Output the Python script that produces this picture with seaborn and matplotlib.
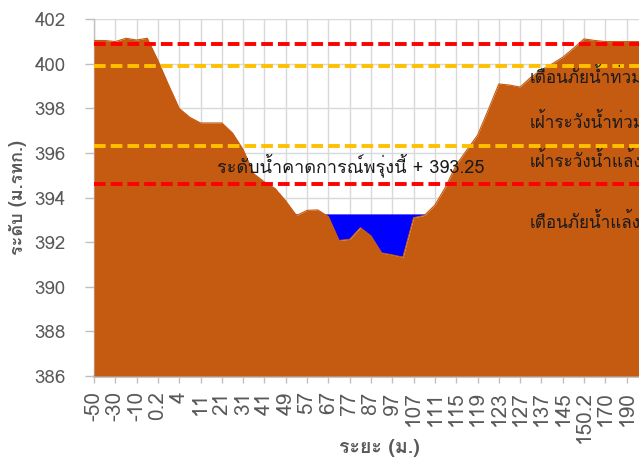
import matplotlib
matplotlib.use("Agg")
import matplotlib.pyplot as plt
import numpy as np
import pandas as pd
import seaborn as sns
from matplotlib import font_manager
from fontTools.ttLib import TTFont

# distance labels (every second one is shown on the axis)
distance = ["-50", "-40", "-30", "-20", "-10", "0", "0.2", "2", "4", "7",
            "11", "16", "21", "26", "31", "36", "41", "45", "49", "53",
            "57", "62", "67", "72", "77", "82", "87", "92", "97", "102",
            "107", "109", "111", "113", "115", "117", "119", "121", "123", "125",
            "127", "132", "137", "141", "145", "148", "150.2", "160", "170", "180",
            "190", "200", "210"]
# ground elevation (m. MSL)
elevation = [401.05, 401.05, 401.0, 401.15, 401.07, 401.15, 400.15, 399.05, 398.0, 397.6,
             397.35, 397.35, 397.35, 396.9, 396.15, 395.07, 394.7, 394.41, 393.85, 393.2,
             393.43, 393.45, 393.15, 392.08, 392.13, 392.65, 392.28, 391.52, 391.43, 391.33,
             393.1, 393.2, 393.67, 394.48, 395.47, 396.14, 396.8, 397.93, 399.1, 399.05,
             398.96, 399.4, 399.73, 400.0, 400.3, 400.7, 401.12, 401.05, 401.0, 401.0,
             401.0, 401.0, 401.0]

forecast_level = 393.25
red_levels = [400.9, 394.6]
yellow_levels = [399.9, 396.3]
level_names = ["เตือนภัยน้ำท่วม", "เฝ้าระวังน้ำท่วม", "เฝ้าระวังน้ำแล้ง", "เตือนภัยน้ำแล้ง"]
level_text_y = [399.15, 397.13, 395.39, 392.63]


def thai_font():
    for f in font_manager.fontManager.ttflist:
        try:
            cmap = TTFont(f.fname, fontNumber=0, lazy=True).getBestCmap()
            if 0x0E23 in cmap and 0x0E49 in cmap:
                return f.name
        except Exception:
            pass
    return None


sns.set_theme(style="whitegrid")
th = thai_font()
families = ([th] if th else []) + ["DejaVu Sans"]
plt.rcParams["font.family"] = families

df = pd.DataFrame({"idx": np.arange(len(distance)), "elev": elevation})
water = np.full(len(df), forecast_level)

fig = plt.figure(figsize=(6.39, 4.61), dpi=100)
ax = fig.add_axes([94 / 639, 1 - 376 / 461, (648 - 94) / 639, (376 - 19.3) / 461])

ax.fill_between(df["idx"], df["elev"], water, where=df["elev"] < water,
                interpolate=True, color="#0000FF", lw=0, zorder=2)
ax.fill_between(df["idx"], 386, df["elev"], color="#C55A11", lw=0, zorder=3)
sns.lineplot(data=df, x="idx", y="elev", color="#C55A11", lw=0.8, ax=ax, zorder=3)

for lv in red_levels:
    ax.axhline(lv, color="#FF0000", lw=2.8, dashes=(3, 1.3), zorder=4)
for lv in yellow_levels:
    ax.axhline(lv, color="#FFC000", lw=2.8, dashes=(3, 1.3), zorder=4)

ax.text(11.55, 395.15, f"ระดับน้ำคาดการณ์พรุ่งนี้ + {forecast_level}",
        fontsize=13, color="#1a1a1a", zorder=5)
for name, y in zip(level_names, level_text_y):
    ax.text(40.9, y, name, fontsize=12.3, color="#1a1a1a", zorder=5)

# only every second distance is labelled; the last one falls outside the crop
shown = df["idx"][:-1:2]
ax.set_xlim(0, len(distance) - 1)
ax.set_ylim(386, 402)
ax.set_yticks(np.arange(386, 403, 2))
ax.set_xticks(shown)
ax.set_xticklabels([distance[i] for i in shown], rotation=90)
ax.tick_params(axis="x", labelsize=15, colors="#595959", length=5, width=1,
               color="#BFBFBF", direction="out", bottom=True, pad=6)
ax.tick_params(axis="y", labelsize=13.5, colors="#595959", length=6.5, width=1,
               color="#BFBFBF", direction="out", left=True, pad=14)
ax.grid(True, color="#D9D9D9", lw=1)
ax.set_axisbelow(True)
for s in ["top", "right"]:
    ax.spines[s].set_visible(False)
ax.spines["left"].set_color("#BFBFBF")
ax.spines["bottom"].set_color("#BFBFBF")
ax.spines["bottom"].set_linewidth(2)
ax.spines["left"].set_linewidth(1)

ax.set_xlabel("ระยะ (ม.)", fontsize=14, fontweight="bold", color="#595959")
ax.set_ylabel("ระดับ (ม.รทก.)", fontsize=13, fontweight="bold", color="#595959")
ax.xaxis.set_label_coords((379 - 94) / (648 - 94), -(439 - 376) / (376 - 19.3))
ax.yaxis.set_label_coords(-(94 - 27) / (648 - 94), 0.5)

fig.savefig("out.png", dpi=100)
